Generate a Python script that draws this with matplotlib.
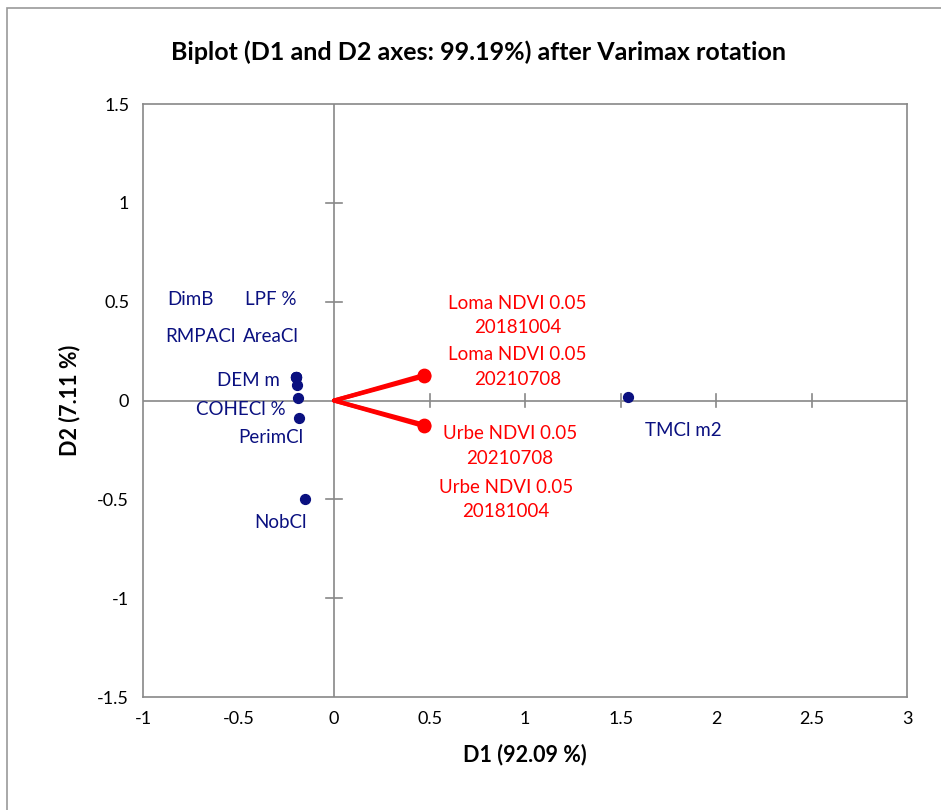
import numpy as np
import matplotlib.pyplot as plt
from matplotlib.patches import Rectangle

plt.rcParams['font.family'] = ['Lato', 'DejaVu Sans']

# variables (blue points)
var_names = ["DimB", "LPF %", "RMPACl", "AreaCl", "DEM m", "COHECl %", "PerimCl", "NobCl", "TMCl m2"]
var_x = [-0.20, -0.20, -0.20, -0.199, -0.195, -0.188, -0.182, -0.152, 1.541]
var_y = [0.12, 0.12, 0.118, 0.12, 0.078, 0.011, -0.087, -0.50, 0.016]
# label anchor (centre) per variable, data coords
var_lx = [-0.75, -0.33, -0.70, -0.33, -0.45, -0.49, -0.33, -0.28, 1.83]
var_ly = [0.51, 0.51, 0.325, 0.325, 0.10, -0.045, -0.185, -0.615, -0.15]

# supplementary vectors (red)
vec_names = ["Loma NDVI 0.05\n20181004", "Loma NDVI 0.05\n20210708",
             "Urbe NDVI 0.05\n20210708", "Urbe NDVI 0.05\n20181004"]
vec_x = [0.473, 0.470, 0.470, 0.473]
vec_y = [0.130, 0.122, -0.122, -0.130]
vec_lx = [0.96, 0.96, 0.92, 0.90]
vec_ly = [0.43, 0.17, -0.23, -0.50]

navy = "#0a1080"
grey = "#888888"

fig = plt.figure(figsize=(9.41, 8.10), dpi=100)
ax = fig.add_axes([0.152, 0.1395, 0.812, 0.732])

# frame around the whole chart
fig.patches.append(Rectangle((7/941, -0.05), 1.1, 1 - 8/810 + 0.05, transform=fig.transFigure,
                             fill=False, ec="#999999", lw=1.2))

ax.set_xlim(-1, 3)
ax.set_ylim(-1.5, 1.5)
ax.set_xticks(np.arange(-1, 3.01, 0.5))
ax.set_yticks(np.arange(-1.5, 1.51, 0.5))
ax.set_xticklabels(["-1", "-0.5", "0", "0.5", "1", "1.5", "2", "2.5", "3"])
ax.set_yticklabels(["-1.5", "-1", "-0.5", "0", "0.5", "1", "1.5"])
ax.tick_params(length=0, labelsize=13, pad=10)
for s in ax.spines.values():
    s.set_color(grey)
    s.set_linewidth(1.2)

# zero axes with cross ticks
ax.axhline(0, color=grey, lw=1.2, zorder=1)
ax.axvline(0, color=grey, lw=1.2, zorder=1)
for t in [0.5, 1, 1.5, 2, 2.5]:
    ax.plot([t, t], [-0.035, 0.035], color=grey, lw=1.2, zorder=1)
for t in [-1, -0.5, 0.5, 1]:
    ax.plot([-0.04, 0.04], [t, t], color=grey, lw=1.2, zorder=1)

ax.scatter(var_x, var_y, s=50, color=navy, zorder=3)
for n, lx, ly in zip(var_names, var_lx, var_ly):
    ax.text(lx, ly, n, color=navy, fontsize=13.5, ha="center", va="center")

for x, y in zip(vec_x, vec_y):
    ax.plot([0, x], [0, y], color="red", lw=3, zorder=2, solid_capstyle="round")
ax.scatter(vec_x, vec_y, s=80, color="red", zorder=3)
for n, lx, ly in zip(vec_names, vec_lx, vec_ly):
    ax.text(lx, ly, n, color="red", fontsize=13.5, ha="center", va="center", linespacing=1.55)

ax.set_xlabel("D1 (92.09 %)", fontsize=15.5, fontweight="bold", labelpad=12)
ax.set_ylabel("D2 (7.11 %)", fontsize=15.5, fontweight="bold", labelpad=12)
fig.text(0.508, 0.935, "Biplot (D1 and D2 axes: 99.19%) after Varimax rotation",
         ha="center", va="center", fontsize=18, fontweight="bold")

fig.savefig("out.png", dpi=100)
